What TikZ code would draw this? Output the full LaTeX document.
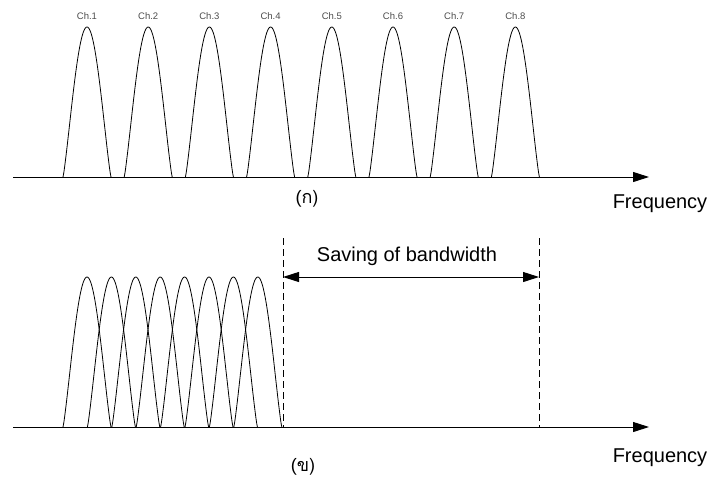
\documentclass[tikz,border=0pt]{standalone}
\usepackage{fontspec}
\setmainfont{Liberation Sans}
\newfontfamily\thaifont[Script=Thai]{Loma}
\usetikzlibrary{arrows.meta}
\tikzset{
  bump/.style={line width=0.8pt, black},
  axisline/.style={line width=1pt, -{Triangle[length=16pt,width=10pt]}},
  dimline/.style={line width=1pt, {Triangle[length=16pt,width=10pt]}-{Triangle[length=16pt,width=10pt]}},
  guide/.style={line width=0.8pt, dash pattern=on 7pt off 4pt},
  chlabel/.style={font=\fontsize{9.5}{11}\selectfont, text=black!70, inner sep=0pt},
  biglabel/.style={font=\fontsize{20}{24}\selectfont, inner sep=0pt},
  caption/.style={font=\fontsize{18}{22}\selectfont, inner sep=0pt}
}
\begin{document}
\begin{tikzpicture}[x=1pt,y=-1pt]
\useasboundingbox (0,0) rectangle (712,480);
% ---------- top panel (ก) ----------
\coordinate (a1s) at (13,177);
\coordinate (a1e) at (649,177);
\foreach \i in {0,...,7}{
  \pgfmathsetmacro{\cx}{87+61.2*\i}
  \draw[bump] plot[domain=-24:24, samples=61, smooth] ({\cx+\x},{177-150*(max(cos(\x*180/48),0))^1.2});
  \pgfmathtruncatemacro{\n}{\i+1}
  \node[chlabel] (ch\n) at (\cx,16) {Ch.\n};
}
\draw[axisline] (a1s) -- (a1e);
\node[caption] (capa) at (307,199) {(\thaifont ก)};
\node[biglabel] (freqa) at (660,204) {Frequency};
% ---------- bottom panel (ข) ----------
\coordinate (a2s) at (13,427);
\coordinate (a2e) at (649,427);
\foreach \i in {0,...,7}{
  \pgfmathsetmacro{\cx}{87+24.4*\i}
  \draw[bump] plot[domain=-24:24, samples=61, smooth] ({\cx+\x},{427-150*(max(cos(\x*180/48),0))^1.2});
}
\coordinate (d1t) at (283,238);
\coordinate (d1b) at (283,427);
\coordinate (d2t) at (539,238);
\coordinate (d2b) at (539,427);
\draw[guide] (d1t) -- (d1b);
\draw[guide] (d2t) -- (d2b);
\coordinate (s1) at (283,277);
\coordinate (s2) at (539,277);
\draw[dimline] (s1) -- (s2);
\draw[axisline] (a2s) -- (a2e);
\node[biglabel] (save) at (407,256) {Saving of bandwidth};
\node[caption] (capb) at (303,467) {(\thaifont ข)};
\node[biglabel] (freqb) at (660,458) {Frequency};
\end{tikzpicture}
\end{document}
